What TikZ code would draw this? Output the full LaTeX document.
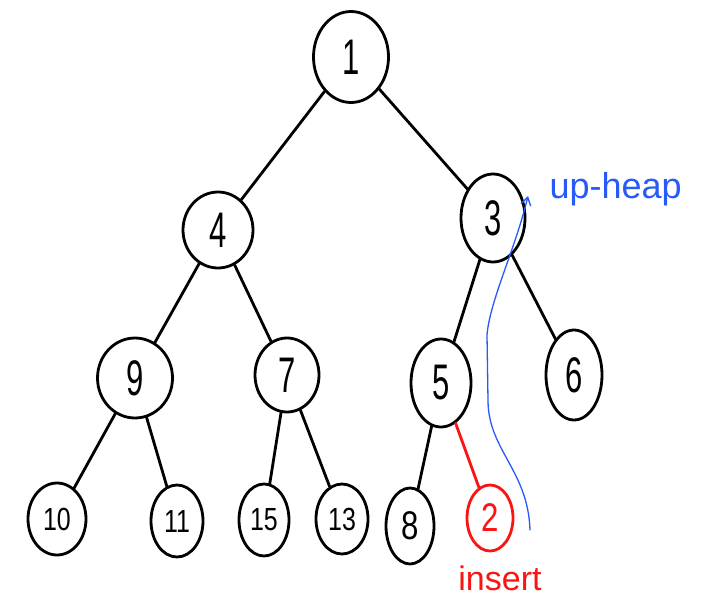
\documentclass[tikz,border=0pt]{standalone}
\usepackage{fontspec}
\setmainfont{Liberation Sans}
\usetikzlibrary{shapes.geometric,arrows.meta}
\definecolor{heapblue}{RGB}{40,90,250}
\definecolor{heapred}{RGB}{250,20,20}
% tall, narrow digits for the keys
\newcommand\bigkey[1]{\scalebox{0.62}[1]{#1}}
\newcommand\smallkey[1]{\scalebox{0.78}[1]{#1}}
\tikzset{
  hnode/.style={ellipse, draw, line width=2.8pt, inner sep=0pt,
    font=\fontsize{50}{50}\selectfont},
  leaf/.style={hnode, font=\fontsize{32}{32}\selectfont},
  edge/.style={line width=2.8pt, line cap=round},
  newnode/.style={leaf, draw=heapred, text=heapred},
  newedge/.style={edge, draw=heapred},
  sift/.style={heapblue, line width=1.3pt, line cap=round,
    -{Straight Barb[length=8pt,width=10pt]}},
}
\begin{document}
\begin{tikzpicture}[x=1pt,y=-1pt]
\useasboundingbox[fill=white] (0,0) rectangle (717,610);

% internal nodes
\node[hnode, minimum width=75pt, minimum height=91pt] (n1) at (351,57) {\bigkey{1}};
\node[hnode, minimum width=70pt, minimum height=76pt] (n4) at (218,230) {\bigkey{4}};
\node[hnode, minimum width=64pt, minimum height=88pt] (n3) at (493,218) {\bigkey{3}};
\node[hnode, minimum width=75pt, minimum height=80pt] (n9) at (135,378) {\bigkey{9}};
\node[hnode, minimum width=64pt, minimum height=74pt] (n7) at (287,375) {\bigkey{7}};
\node[hnode, minimum width=60pt, minimum height=88pt] (n5) at (441,383) {\bigkey{5}};
\node[hnode, minimum width=56pt, minimum height=90pt] (n6) at (574,375) {\bigkey{6}};

% leaves
\node[leaf, minimum width=58pt, minimum height=72pt] (n10) at (57,519) {\smallkey{10}};
\node[leaf, minimum width=52pt, minimum height=72pt] (n11) at (177,521) {\smallkey{11}};
\node[leaf, minimum width=50pt, minimum height=72pt] (n15) at (264,520) {\smallkey{15}};
\node[leaf, minimum width=52pt, minimum height=70pt] (n13) at (342,519) {\smallkey{13}};
\node[leaf, minimum width=48pt, minimum height=76pt, font=\fontsize{40}{40}\selectfont] (n8) at (410,526) {\smallkey{8}};
\node[newnode, minimum width=46pt, minimum height=66pt, font=\fontsize{40}{40}\selectfont] (n2) at (490,518) {\smallkey{2}};

% edges
\draw[edge] (n1) -- (n4);
\draw[edge] (n1) -- (n3);
\draw[edge] (n4) -- (n9);
\draw[edge] (n4) -- (n7);
\draw[edge] (n3) -- (n5);
\draw[edge] (n3) -- (n6);
\draw[edge] (n9) -- (n10);
\draw[edge] (n9) -- (n11);
\draw[edge] (n7) -- (n15);
\draw[edge] (n7) -- (n13);
\draw[edge] (n5) -- (n8);
\draw[newedge] (n5) -- (n2);

% labels
\node[text=heapred, font=\fontsize{34}{34}\selectfont, anchor=base] (ins) at (500,590) {insert};
\node[text=heapblue, font=\fontsize{36}{36}\selectfont, anchor=base west] (up) at (546,198) {up-heap};

% sift-up path
\coordinate (s0) at (530,530);
\coordinate (s1) at (528,196);
\draw[sift] (s0) .. controls (528,470) and (488,450) .. (488,400)
  -- (487,335) .. controls (490,300) and (515,250) .. (s1);
\end{tikzpicture}
\end{document}
